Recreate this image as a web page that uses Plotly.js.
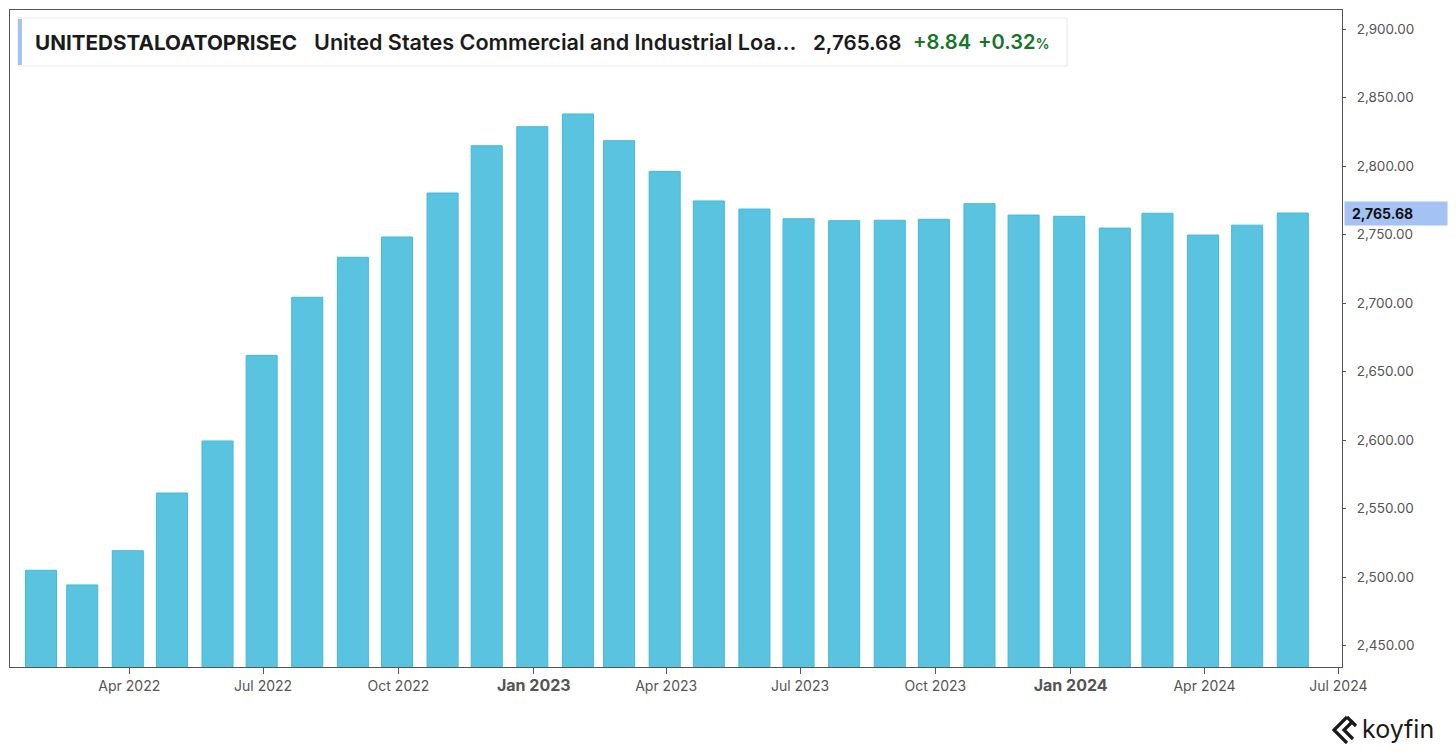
<!DOCTYPE html>
<html>
<head>
<meta charset="utf-8">
<script src="https://cdn.plot.ly/plotly-3.0.1.min.js"></script>
<style>
  html, body { margin: 0; padding: 0; background: #ffffff; }
  #chart { width: 1456px; height: 752px; }
</style>
</head>
<body>
<div id="chart"></div>
<script>
// ---- Data ----
const dates = [
  '2022-01-31','2022-02-28','2022-03-31','2022-04-30','2022-05-31','2022-06-30',
  '2022-07-31','2022-08-31','2022-09-30','2022-10-31','2022-11-30','2022-12-31',
  '2023-01-31','2023-02-28','2023-03-31','2023-04-30','2023-05-31','2023-06-30',
  '2023-07-31','2023-08-31','2023-09-30','2023-10-31','2023-11-30','2023-12-31',
  '2024-01-31','2024-02-29','2024-03-31','2024-04-30','2024-05-31'
];
const values = [
  2504.9, 2494.2, 2519.2, 2561.3, 2599.3, 2661.8,
  2704.2, 2733.4, 2748.2, 2780.3, 2814.8, 2828.7,
  2838.0, 2818.5, 2796.1, 2774.5, 2768.6, 2761.5,
  2760.1, 2760.4, 2761.1, 2772.5, 2764.2, 2763.3,
  2754.7, 2765.5, 2749.6, 2756.84, 2765.68
];
const tickVals = [
  '2022-04-01','2022-07-01','2022-10-01','2023-01-01','2023-04-01',
  '2023-07-01','2023-10-01','2024-01-01','2024-04-01','2024-07-01'
];
const tickLabels = [
  'Apr 2022','Jul 2022','Oct 2022','Jan 2023','Apr 2023',
  'Jul 2023','Oct 2023','Jan 2024','Apr 2024','Jul 2024'
];
const boldTicks = ['Jan 2023','Jan 2024'];
const seriesCode = 'UNITEDSTALOATOPRISEC';
const seriesName = 'United States Commercial and Industrial Loa…';
const lastValue = values[values.length - 1];
const change = lastValue - values[values.length - 2];
const changePct = change / values[values.length - 2] * 100;

// ---- Layout helpers (pixel -> paper) ----
const W = 1456, H = 752;
const M = {l: 10, r: 114, t: 10, b: 85};
const PW = W - M.l - M.r, PH = H - M.t - M.b;
const px = x => (x - M.l) / PW;
const py = y => (H - M.b - y) / PH;

const fmt = v => v.toLocaleString('en-US', {minimumFractionDigits: 2, maximumFractionDigits: 2});

const tickText = tickLabels.map(t => boldTicks.includes(t)
  ? '<span style="font-size:16px"><b>' + t + '</b></span>' : t);

const FONT = 'Inter, "Noto Sans", sans-serif';

const trace = {
  type: 'bar',
  x: dates,
  y: values,
  width: 21.1 * 86400000,
  marker: { color: '#5ac4e0', line: { color: '#45b8da', width: 1 } },
  hoverinfo: 'skip'
};

const shapes = [
  // header box
  { type: 'rect', xref: 'paper', yref: 'paper', x0: px(18), x1: px(1067), y0: py(66), y1: py(18),
    fillcolor: '#ffffff', line: { color: '#e8e8e8', width: 1 } },
  { type: 'rect', xref: 'paper', yref: 'paper', x0: px(18), x1: px(22), y0: py(65), y1: py(19),
    fillcolor: '#a4c2f4', line: { width: 0 } },
  // koyfin icon
  { type: 'path', xref: 'paper', yref: 'paper',
    path: 'M ' + px(1347) + ' ' + py(717) + ' L ' + px(1334) + ' ' + py(730) + ' L ' + px(1347) + ' ' + py(743),
    line: { color: '#1a1a1a', width: 3.2 } },
  { type: 'path', xref: 'paper', yref: 'paper',
    path: 'M ' + px(1353) + ' ' + py(721) + ' L ' + px(1344) + ' ' + py(730) + ' L ' + px(1353) + ' ' + py(739),
    line: { color: '#1a1a1a', width: 3.2 } },
  { type: 'path', xref: 'paper', yref: 'paper',
    path: 'M ' + px(1347) + ' ' + py(717) + ' L ' + px(1356) + ' ' + py(726),
    line: { color: '#1a1a1a', width: 3.2 } }
];

const headY = py(42);
const annotations = [
  { xref: 'paper', yref: 'paper', x: px(33), y: headY, xanchor: 'left', yanchor: 'middle', showarrow: false,
    text: '<b>' + seriesCode + '</b>', font: { family: FONT, size: 20.7, color: '#1b1b1b' } },
  { xref: 'paper', yref: 'paper', x: px(312), y: headY, xanchor: 'left', yanchor: 'middle', showarrow: false,
    text: seriesName, font: { family: FONT, size: 21.6, color: '#1b1b1b', weight: 600 } },
  { xref: 'paper', yref: 'paper', x: px(811), y: headY, xanchor: 'left', yanchor: 'middle', showarrow: false,
    text: fmt(lastValue), font: { family: FONT, size: 20.6, color: '#1b1b1b', weight: 600 } },
  { xref: 'paper', yref: 'paper', x: px(911), y: headY, xanchor: 'left', yanchor: 'middle', showarrow: false,
    text: '+' + change.toFixed(2), font: { family: FONT, size: 20.1, color: '#17742b', weight: 600 } },
  { xref: 'paper', yref: 'paper', x: px(976), y: headY, xanchor: 'left', yanchor: 'middle', showarrow: false,
    text: '+' + changePct.toFixed(2) + '<span style="font-size:14px">%</span>',
    font: { family: FONT, size: 20.1, color: '#17742b', weight: 600 } },
  // last value marker on axis
  { xref: 'paper', yref: 'y', x: 1, y: lastValue, xanchor: 'left', yanchor: 'middle', xshift: 2, showarrow: false,
    text: '&nbsp;<b>' + fmt(lastValue) + '</b>', align: 'left', width: 96, height: 17, borderpad: 3,
    bgcolor: '#a4c2f4', font: { family: FONT, size: 14, color: '#111111' } },
  // koyfin wordmark
  { xref: 'paper', yref: 'paper', x: px(1360), y: py(729), xanchor: 'left', yanchor: 'middle', showarrow: false,
    text: 'koyfin', font: { family: FONT, size: 25, color: '#1a1a1a', weight: 400 } }
];

const layout = {
  width: W, height: H,
  margin: M,
  paper_bgcolor: '#ffffff',
  plot_bgcolor: '#ffffff',
  showlegend: false,
  font: { family: FONT, color: '#555555' },
  bargap: 0.3,
  xaxis: {
    type: 'date',
    range: ['2022-01-09 22:00', '2024-07-03 11:00'],
    tickmode: 'array',
    tickvals: tickVals,
    ticktext: tickText,
    ticks: 'outside', ticklen: 6, tickcolor: '#555555', tickwidth: 1,
    showgrid: false, zeroline: false,
    showline: true, linecolor: '#555555', linewidth: 1, mirror: true,
    tickfont: { family: FONT, size: 14, color: '#555555' },
    fixedrange: true
  },
  yaxis: {
    side: 'right',
    range: [2434.3, 2913.9],
    tick0: 2450, dtick: 50,
    tickformat: ',.2f',
    ticks: 'outside', ticklen: 3, tickcolor: '#555555', tickwidth: 1,
    ticklabelstandoff: 8,
    showgrid: false, zeroline: false,
    showline: true, linecolor: '#555555', linewidth: 1, mirror: true,
    tickfont: { family: FONT, size: 13.5, color: '#555555' },
    fixedrange: true
  },
  shapes: shapes,
  annotations: annotations
};

Plotly.newPlot('chart', [trace], layout, { displayModeBar: false, staticPlot: true });
</script>
</body>
</html>
